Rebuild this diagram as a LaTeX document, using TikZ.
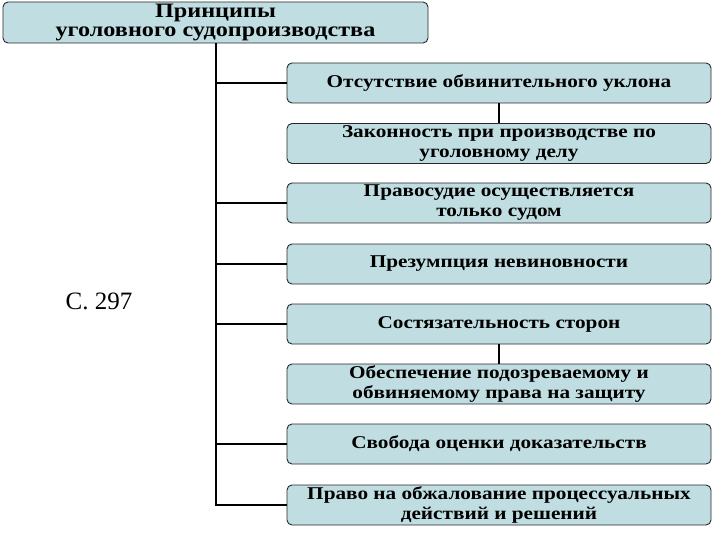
\documentclass[tikz,border=0pt]{standalone}
\usepackage{fontspec}
\setmainfont{Liberation Serif}
\newfontfamily\widefont[FakeStretch=1.18]{Liberation Serif}
\definecolor{boxfill}{RGB}{192,222,226}
\definecolor{boxline}{RGB}{40,40,40}
\begin{document}
\begin{tikzpicture}[x=1pt,y=-1pt,
  box/.style={draw=boxline, line width=0.9pt, fill=boxfill, rounded corners=5pt,
    minimum width=424pt, minimum height=40pt, inner sep=0pt, align=center,
    font=\widefont\fontsize{18}{20}\selectfont\bfseries},
  conn/.style={line width=2pt, black}]
\useasboundingbox (0,0) rectangle (720,540);
\node[box, minimum width=425pt, minimum height=41pt,
  font=\widefont\fontsize{20.5}{19.5}\selectfont\bfseries] (title) at (215.5,22.5)
  {Принципы\\уголовного судопроизводства};
\node[box] (b1) at (499,83) {Отсутствие обвинительного уклона};
\node[box] (b2) at (499,143.5) {Законность при производстве по\\уголовному делу};
\node[box] (b3) at (499,203) {Правосудие осуществляется\\только судом};
\node[box] (b4) at (499,264) {Презумпция невиновности};
\node[box] (b5) at (499,324) {Состязательность сторон};
\node[box] (b6) at (499,384) {Обеспечение подозреваемому и\\обвиняемому права на защиту};
\node[box] (b7) at (499,444) {Свобода оценки доказательств};
\node[box] (b8) at (499,505) {Право на обжалование процессуальных\\действий и решений};
\node[font=\fontsize{25}{28}\selectfont] (page) at (99,301) {С. 297};
\draw[conn] (title.south) |- (b8.west);
\foreach \b in {b1,b3,b4,b5,b7}
  \draw[conn] (title.south |- \b.west) -- (\b.west);
\draw[conn] (b1.south) -- (b2.north);
\draw[conn] (b5.south) -- (b6.north);
\end{tikzpicture}
\end{document}
